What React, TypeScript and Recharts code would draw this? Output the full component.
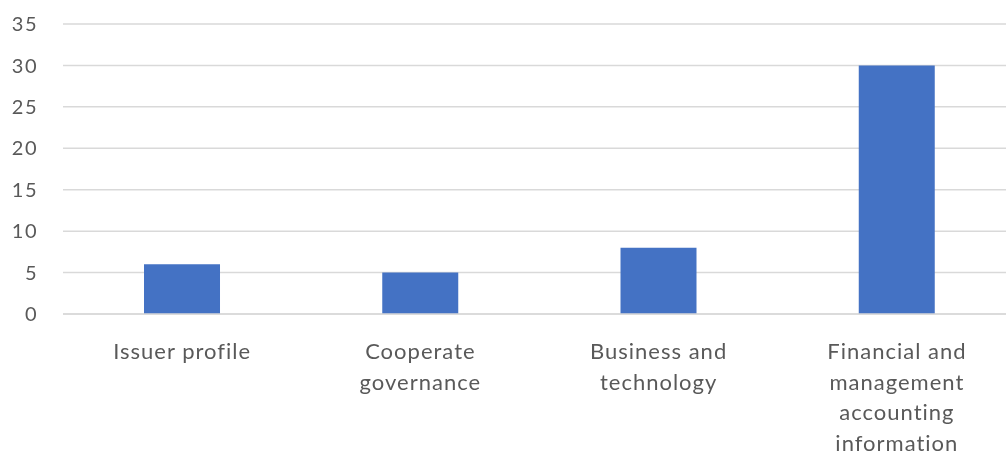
import React from "react";
import { BarChart, Bar, XAxis, YAxis, CartesianGrid } from "recharts";

const categories = [
  "Issuer profile",
  "Cooperate governance",
  "Business and technology",
  "Financial and management accounting information",
];
const counts = [6, 5, 8, 30];
const yTicks = [0, 5, 10, 15, 20, 25, 30, 35];

const data = categories.map((c, i) => ({ name: c, value: counts[i] }));

const FONT = "Lato, 'Open Sans', sans-serif";
const X_FONT_SIZE = 22;
const X_LETTER = 1;
const WRAP_WIDTH = 160;

let ctx: CanvasRenderingContext2D | null = null;
function measure(s: string): number {
  if (!ctx && typeof document !== "undefined") {
    ctx = document.createElement("canvas").getContext("2d");
  }
  if (!ctx) return s.length * X_FONT_SIZE * 0.5;
  ctx.font = `${X_FONT_SIZE}px Lato`;
  return ctx.measureText(s).width + s.length * X_LETTER;
}

function wrap(label: string): string[] {
  const words = label.split(" ");
  const lines: string[] = [];
  let cur = "";
  for (const w of words) {
    const test = cur ? cur + " " + w : w;
    if (cur && measure(test) > WRAP_WIDTH) {
      lines.push(cur);
      cur = w;
    } else {
      cur = test;
    }
  }
  if (cur) lines.push(cur);
  return lines;
}

const XTick = (props: any) => {
  const { x, y, payload } = props;
  const lines = wrap(String(payload.value));
  return (
    <text
      x={x}
      y={y}
      textAnchor="middle"
      fill="#595959"
      fontSize={X_FONT_SIZE}
      fontFamily={FONT}
      letterSpacing={X_LETTER}
    >
      {lines.map((l, i) => (
        <tspan key={i} x={x} y={y + 45 + i * 30.5}>
          {l}
        </tspan>
      ))}
    </text>
  );
};

export default function App() {
  return (
    <div
      style={{
        position: "fixed",
        left: 8,
        top: 8,
        width: 998,
        height: 448,
        overflow: "hidden",
      }}
    >
      <BarChart
        width={1010}
        height={448}
        data={data}
        margin={{ top: 16, right: 2, bottom: 0, left: 0 }}
        barCategoryGap="34%"
      >
        <CartesianGrid vertical={false} stroke="#d9d9d9" strokeWidth={1.5} />
        <XAxis
          dataKey="name"
          height={142}
          axisLine={{ stroke: "#d9d9d9", strokeWidth: 1.5 }}
          tickLine={false}
          tickSize={0}
          tickMargin={0}
          interval={0}
          tick={<XTick />}
        />
        <YAxis
          width={55}
          domain={[0, 35]}
          ticks={yTicks}
          axisLine={false}
          tickLine={false}
          tickSize={0}
          tickMargin={25}
          tick={{ fill: "#595959", fontSize: 20, fontFamily: FONT, letterSpacing: 1.5 }}
        />
        <Bar dataKey="value" fill="#4472c4" isAnimationActive={false} />
      </BarChart>
    </div>
  );
}
